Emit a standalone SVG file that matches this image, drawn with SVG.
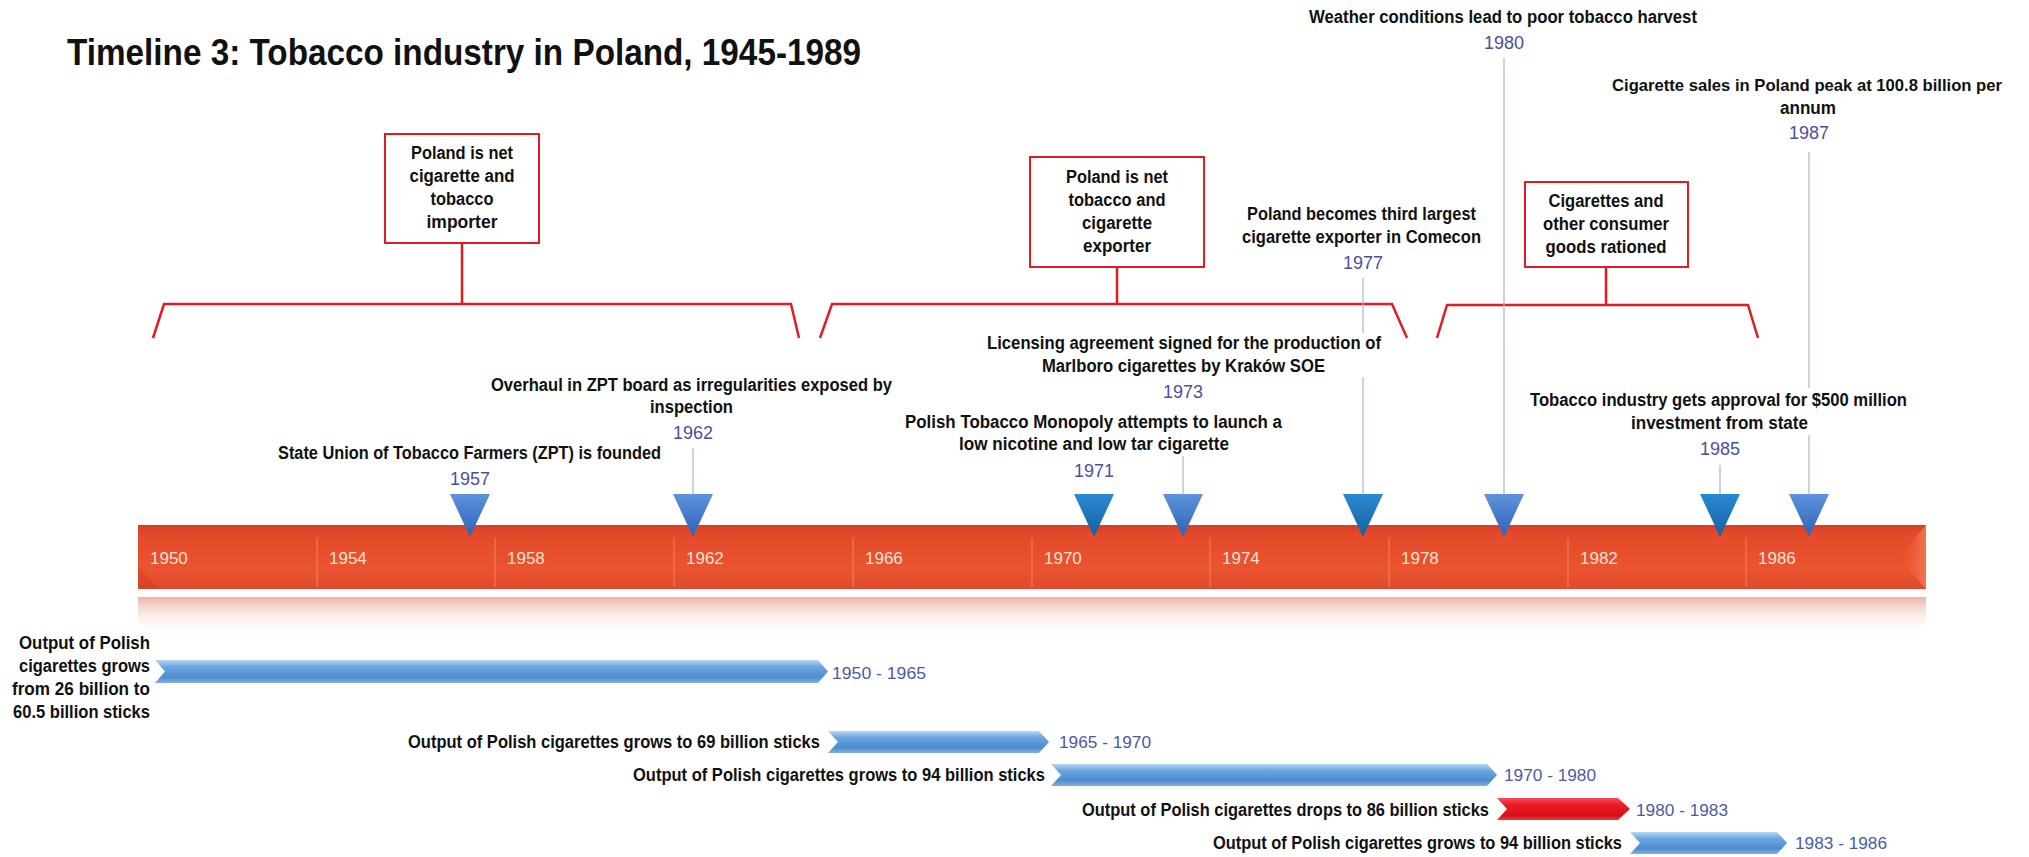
<svg xmlns="http://www.w3.org/2000/svg" width="2029" height="857" viewBox="0 0 2029 857">
<defs>
<style>
.t{font-family:"Liberation Sans",Arial,sans-serif;font-weight:bold;font-size:18px;fill:#111;}
.bt{font-family:"Liberation Sans",Arial,sans-serif;font-weight:bold;font-size:18px;fill:#111;text-anchor:middle;}
.yr{font-family:"Liberation Sans",Arial,sans-serif;font-size:18px;fill:#4b4fa0;text-anchor:middle;}
.rg{font-family:"Liberation Sans",Arial,sans-serif;font-size:17px;fill:#4b5aa8;}
.ax{font-family:"Liberation Sans",Arial,sans-serif;font-size:17px;fill:#fbe2d4;}
.br{fill:none;stroke:#e31b23;stroke-width:2.5;}
.box{fill:#fff;stroke:#e31b23;stroke-width:2;}
.cn{stroke:#a8b6c8;stroke-width:1.2;fill:none;}
.tick{stroke:#f59a7e;stroke-width:1;opacity:0.7;}
</style>
<linearGradient id="barG" x1="0" y1="0" x2="0" y2="1">
<stop offset="0" stop-color="#d63f26"/>
<stop offset="0.15" stop-color="#e44a2a"/>
<stop offset="0.7" stop-color="#ea5430"/>
<stop offset="1" stop-color="#e04a2c"/>
</linearGradient>
<linearGradient id="bevG" x1="0" y1="0" x2="1" y2="0">
<stop offset="0" stop-color="#ea5430" stop-opacity="0"/>
<stop offset="1" stop-color="#f47a55" stop-opacity="0.9"/>
</linearGradient>
<linearGradient id="refG" x1="0" y1="0" x2="0" y2="1">
<stop offset="0" stop-color="#eeaa9c" stop-opacity="0.9"/>
<stop offset="1" stop-color="#ffffff" stop-opacity="0"/>
</linearGradient>
<linearGradient id="triA" x1="0" y1="0" x2="0" y2="1">
<stop offset="0" stop-color="#5e93dc"/>
<stop offset="1" stop-color="#2c62b6"/>
</linearGradient>
<linearGradient id="triB" x1="0" y1="0" x2="0" y2="1">
<stop offset="0" stop-color="#2a8ad4"/>
<stop offset="1" stop-color="#14609f"/>
</linearGradient>
<linearGradient id="chB" x1="0" y1="0" x2="0" y2="1">
<stop offset="0" stop-color="#b9d7f2"/>
<stop offset="0.3" stop-color="#6aa5de"/>
<stop offset="0.75" stop-color="#4f8ccf"/>
<stop offset="1" stop-color="#7fb0e2"/>
</linearGradient>
<linearGradient id="chR" x1="0" y1="0" x2="0" y2="1">
<stop offset="0" stop-color="#f4505a"/>
<stop offset="0.3" stop-color="#ea1c24"/>
<stop offset="0.8" stop-color="#d81018"/>
<stop offset="1" stop-color="#e83a40"/>
</linearGradient>
</defs>
<rect width="2029" height="857" fill="#ffffff"/>

<text id="title" x="67" y="65" font-family="'Liberation Sans',Arial,sans-serif" font-weight="bold" font-size="36" fill="#111" textLength="794" lengthAdjust="spacingAndGlyphs">Timeline 3: Tobacco industry in Poland, 1945-1989</text>

<g id="connectors">
<path class="br" d="M153,338 L164,304 L791,304 L799,338 M462,243 L462,304"/>
<path class="br" d="M820,338 L832,304 L1392,304 L1407,338 M1117,267 L1117,304"/>
<path class="br" d="M1437,338 L1447,305 L1748,305 L1758,338 M1606,267 L1606,305"/>
<path class="cn" d="M693,448 L693,496"/>
<path class="cn" d="M1183,456 L1183,496"/>
<path class="cn" d="M1363,278 L1363,333 M1363,377 L1363,496"/>
<path class="cn" d="M1504,58 L1504,496"/>
<path class="cn" d="M1720,465 L1720,496"/>
<path class="cn" d="M1809,152 L1809,388 M1809,435 L1809,496"/>
</g>

<g id="period-import">
<rect class="box" x="385" y="134" width="154" height="109"/>
<text class="bt" x="462" y="159" textLength="102" lengthAdjust="spacingAndGlyphs">Poland is net</text>
<text class="bt" x="462" y="182" textLength="105" lengthAdjust="spacingAndGlyphs">cigarette and</text>
<text class="bt" x="462" y="205" textLength="63" lengthAdjust="spacingAndGlyphs">tobacco</text>
<text class="bt" x="462" y="228" textLength="71" lengthAdjust="spacingAndGlyphs">importer</text>
</g>
<g id="period-export">
<rect class="box" x="1030" y="157" width="174" height="110"/>
<text class="bt" x="1117" y="183" textLength="102" lengthAdjust="spacingAndGlyphs">Poland is net</text>
<text class="bt" x="1117" y="206" textLength="97" lengthAdjust="spacingAndGlyphs">tobacco and</text>
<text class="bt" x="1117" y="229" textLength="70" lengthAdjust="spacingAndGlyphs">cigarette</text>
<text class="bt" x="1117" y="252" textLength="68" lengthAdjust="spacingAndGlyphs">exporter</text>
</g>
<g id="period-rationed">
<rect class="box" x="1525" y="182" width="163" height="85"/>
<text class="bt" x="1606" y="207" textLength="115" lengthAdjust="spacingAndGlyphs">Cigarettes and</text>
<text class="bt" x="1606" y="230" textLength="126" lengthAdjust="spacingAndGlyphs">other consumer</text>
<text class="bt" x="1606" y="253" textLength="121" lengthAdjust="spacingAndGlyphs">goods rationed</text>
</g>

<g id="axis">
<rect x="138" y="597" width="1788" height="38" fill="url(#refG)"/>
<rect x="138" y="525" width="1788" height="64" fill="url(#barG)"/>
<polygon points="1926,525 1898,557 1926,589" fill="url(#bevG)"/>
<polygon points="138,589 160,589 138,567" fill="#c93a22" opacity="0.4"/>
<g class="tick">
<line x1="317" y1="538" x2="317" y2="587"/>
<line x1="495" y1="538" x2="495" y2="587"/>
<line x1="674" y1="538" x2="674" y2="587"/>
<line x1="853" y1="538" x2="853" y2="587"/>
<line x1="1032" y1="538" x2="1032" y2="587"/>
<line x1="1210" y1="538" x2="1210" y2="587"/>
<line x1="1389" y1="538" x2="1389" y2="587"/>
<line x1="1568" y1="538" x2="1568" y2="587"/>
<line x1="1746" y1="538" x2="1746" y2="587"/>
</g>
<text class="ax" x="150" y="564">1950</text>
<text class="ax" x="329" y="564">1954</text>
<text class="ax" x="507" y="564">1958</text>
<text class="ax" x="686" y="564">1962</text>
<text class="ax" x="865" y="564">1966</text>
<text class="ax" x="1044" y="564">1970</text>
<text class="ax" x="1222" y="564">1974</text>
<text class="ax" x="1401" y="564">1978</text>
<text class="ax" x="1580" y="564">1982</text>
<text class="ax" x="1758" y="564">1986</text>
</g>

<g id="ev1957">
<text class="t" x="278" y="459" textLength="383" lengthAdjust="spacingAndGlyphs">State Union of Tobacco Farmers (ZPT) is founded</text>
<text class="yr" x="470" y="485">1957</text>
<polygon points="450,494 490,494 470,537" fill="url(#triA)"/>
</g>
<g id="ev1962">
<text class="t" x="491" y="391" textLength="401" lengthAdjust="spacingAndGlyphs">Overhaul in ZPT board as irregularities exposed by</text>
<text class="t" x="650" y="413" textLength="83" lengthAdjust="spacingAndGlyphs">inspection</text>
<text class="yr" x="693" y="439">1962</text>
<polygon points="673,494 713,494 693,537" fill="url(#triA)"/>
</g>
<g id="ev1971">
<text class="t" x="905" y="428" textLength="377" lengthAdjust="spacingAndGlyphs">Polish Tobacco Monopoly attempts to launch a</text>
<text class="t" x="959" y="450" textLength="270" lengthAdjust="spacingAndGlyphs">low nicotine and low tar cigarette</text>
<text class="yr" x="1094" y="477">1971</text>
<polygon points="1074,494 1114,494 1094,537" fill="url(#triB)"/>
</g>
<g id="ev1973">
<text class="t" x="987" y="349" textLength="394" lengthAdjust="spacingAndGlyphs">Licensing agreement signed for the production of</text>
<text class="t" x="1042" y="372" textLength="283" lengthAdjust="spacingAndGlyphs">Marlboro cigarettes by Kraków SOE</text>
<text class="yr" x="1183" y="398">1973</text>
<polygon points="1163,494 1203,494 1183,537" fill="url(#triA)"/>
</g>
<g id="ev1977">
<text class="t" x="1247" y="220" textLength="229" lengthAdjust="spacingAndGlyphs">Poland becomes third largest</text>
<text class="t" x="1242" y="243" textLength="239" lengthAdjust="spacingAndGlyphs">cigarette exporter in Comecon</text>
<text class="yr" x="1363" y="269">1977</text>
<polygon points="1343,494 1383,494 1363,537" fill="url(#triB)"/>
</g>
<g id="ev1980">
<text class="t" x="1309" y="23" textLength="388" lengthAdjust="spacingAndGlyphs">Weather conditions lead to poor tobacco harvest</text>
<text class="yr" x="1504" y="49">1980</text>
<polygon points="1484,494 1524,494 1504,537" fill="url(#triA)"/>
</g>
<g id="ev1985">
<text class="t" x="1530" y="406" textLength="377" lengthAdjust="spacingAndGlyphs">Tobacco industry gets approval for $500 million</text>
<text class="t" x="1631" y="429" textLength="177" lengthAdjust="spacingAndGlyphs">investment from state</text>
<text class="yr" x="1720" y="455">1985</text>
<polygon points="1700,494 1740,494 1720,537" fill="url(#triB)"/>
</g>
<g id="ev1987">
<text class="t" x="1612" y="91" font-size="17" style="font-size:17px" textLength="390" lengthAdjust="spacingAndGlyphs">Cigarette sales in Poland peak at 100.8 billion per</text>
<text class="t" x="1780" y="114" textLength="56" lengthAdjust="spacingAndGlyphs">annum</text>
<text class="yr" x="1809" y="139">1987</text>
<polygon points="1789,494 1829,494 1809,537" fill="url(#triA)"/>
</g>

<g id="range1950">
<text class="t" x="19" y="649" textLength="131" lengthAdjust="spacingAndGlyphs">Output of Polish</text>
<text class="t" x="19" y="672" textLength="131" lengthAdjust="spacingAndGlyphs">cigarettes grows</text>
<text class="t" x="12" y="695" textLength="138" lengthAdjust="spacingAndGlyphs">from 26 billion to</text>
<text class="t" x="13" y="718" textLength="137" lengthAdjust="spacingAndGlyphs">60.5 billion sticks</text>
<path d="M155,660 L818,660 L828,671.5 L818,683 L155,683 L165,671.5 Z" fill="url(#chB)"/>
<text class="rg" x="832" y="679" textLength="94" lengthAdjust="spacingAndGlyphs">1950 - 1965</text>
</g>
<g id="range1965">
<text class="t" x="408" y="748" textLength="412" lengthAdjust="spacingAndGlyphs">Output of Polish cigarettes grows to 69 billion sticks</text>
<path d="M828,731 L1039,731 L1049,742 L1039,753 L828,753 L838,742 Z" fill="url(#chB)"/>
<text class="rg" x="1059" y="748" textLength="92" lengthAdjust="spacingAndGlyphs">1965 - 1970</text>
</g>
<g id="range1970">
<text class="t" x="633" y="781" textLength="412" lengthAdjust="spacingAndGlyphs">Output of Polish cigarettes grows to 94 billion sticks</text>
<path d="M1051,764 L1487,764 L1497,775 L1487,786 L1051,786 L1061,775 Z" fill="url(#chB)"/>
<text class="rg" x="1504" y="781" textLength="92" lengthAdjust="spacingAndGlyphs">1970 - 1980</text>
</g>
<g id="range1980">
<text class="t" x="1082" y="816" textLength="407" lengthAdjust="spacingAndGlyphs">Output of Polish cigarettes drops to 86 billion sticks</text>
<path d="M1497,798 L1618,798 L1630,809 L1618,820 L1497,820 L1507,809 Z" fill="url(#chR)"/>
<text class="rg" x="1636" y="816" textLength="92" lengthAdjust="spacingAndGlyphs">1980 - 1983</text>
</g>
<g id="range1983">
<text class="t" x="1213" y="849" textLength="409" lengthAdjust="spacingAndGlyphs">Output of Polish cigarettes grows to 94 billion sticks</text>
<path d="M1630,832 L1777,832 L1787,843 L1777,854 L1630,854 L1640,843 Z" fill="url(#chB)"/>
<text class="rg" x="1795" y="849" textLength="92" lengthAdjust="spacingAndGlyphs">1983 - 1986</text>
</g>
</svg>
